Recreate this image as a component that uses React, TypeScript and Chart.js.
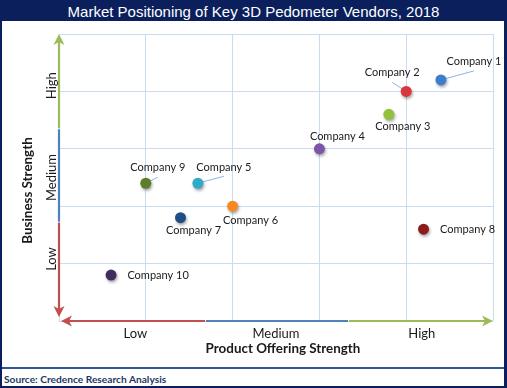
import { useEffect, useRef } from 'react';
import { Chart, registerables } from 'chart.js';

Chart.register(...registerables);

const companies = ['Company 1', 'Company 2', 'Company 3', 'Company 4', 'Company 5', 'Company 6', 'Company 7', 'Company 8', 'Company 9', 'Company 10'];
const productStrength = [4.4, 4.0, 3.8, 3.0, 1.6, 2.0, 1.4, 4.2, 1.0, 0.6];
const businessStrength = [4.2, 4.0, 3.6, 3.0, 2.4, 2.0, 1.8, 1.6, 2.4, 0.8];
const pointColors = ['#3c7dcc', '#d9363e', '#92c13c', '#7d55a8', '#31a9c9', '#f58a22', '#1f4e85', '#8c1c1c', '#5e7d2a', '#3f2d62'];
const xLevels = ['Low', 'Medium', 'High'];
const xLevelAt = [0.88, 2.5, 4.18];
const yLevels = ['Low', 'Medium', 'High'];
const yLevelAt = [1.08, 2.5, 4.1];

// label placement (pixels relative to the point) and optional leader line end
const labelOffsets: [number, number][] = [[33, -18], [-14, -19], [14, 12], [18, -12], [26, -16], [18, 14], [13, 13], [44, 0], [12, -16], [47, 0]];
const leaderEnds: ([number, number] | null)[] = [[33, -9], [-14, -9], null, null, [26, -7], null, null, null, [12, -6], null];

const NAVY = '#0b1f5c';
const GREEN = '#9bbb59';
const BLUE = '#4f81bd';
const RED = '#c0504d';
const FONT = 'Lato, "Liberation Sans", sans-serif';

function head(ctx: CanvasRenderingContext2D, tx: number, ty: number, dx: number, dy: number, color: string) {
  const L = 11, W = 5.5, N = 3;
  const px = -dy, py = dx;
  ctx.fillStyle = color;
  ctx.beginPath();
  ctx.moveTo(tx, ty);
  ctx.lineTo(tx - dx * L + px * W, ty - dy * L + py * W);
  ctx.lineTo(tx - dx * (L - N), ty - dy * (L - N));
  ctx.lineTo(tx - dx * L - px * W, ty - dy * L - py * W);
  ctx.closePath();
  ctx.fill();
}

function seg(ctx: CanvasRenderingContext2D, x1: number, y1: number, x2: number, y2: number, color: string) {
  ctx.strokeStyle = color;
  ctx.lineWidth = 2.2;
  ctx.beginPath();
  ctx.moveTo(x1, y1);
  ctx.lineTo(x2, y2);
  ctx.stroke();
}

const decor = {
  id: 'decor',
  beforeDatasetsDraw(chart: any) {
    const ctx: CanvasRenderingContext2D = chart.ctx;
    const xs = chart.scales.x, ys = chart.scales.y;
    ctx.save();
    const x0 = xs.getPixelForValue(0);
    const top = ys.getPixelForValue(5);
    const bot = ys.getPixelForValue(0) - 4;
    const t = (bot - top) / 3;
    seg(ctx, x0, top + 8, x0, top + t, GREEN);
    head(ctx, x0, top, 0, -1, GREEN);
    seg(ctx, x0, top + t + 1, x0, top + 2 * t - 1, BLUE);
    seg(ctx, x0, top + 2 * t, x0, bot - 8, RED);
    head(ctx, x0, bot, 0, 1, RED);
    const y0 = ys.getPixelForValue(0);
    const left = xs.getPixelForValue(0) + 2;
    const right = xs.getPixelForValue(5);
    const s = (right - left) / 3;
    seg(ctx, left + 8, y0, left + s, y0, RED);
    head(ctx, left, y0, -1, 0, RED);
    seg(ctx, left + s + 1, y0, left + 2 * s - 1, y0, BLUE);
    seg(ctx, left + 2 * s, y0, right - 8, y0, GREEN);
    head(ctx, right, y0, 1, 0, GREEN);
    const meta = chart.getDatasetMeta(0);
    ctx.strokeStyle = '#8db3e2';
    ctx.lineWidth = 1;
    meta.data.forEach((pt: any, i: number) => {
      const e = leaderEnds[i];
      if (!e) return;
      ctx.beginPath();
      ctx.moveTo(pt.x, pt.y);
      ctx.lineTo(pt.x + e[0], pt.y + e[1]);
      ctx.stroke();
    });
    ctx.restore();
    ctx.save();
    ctx.shadowColor = 'rgba(0,0,0,0.35)';
    ctx.shadowBlur = 3;
    ctx.shadowOffsetX = 1;
    ctx.shadowOffsetY = 2;
  },
  afterDatasetsDraw(chart: any) {
    const ctx: CanvasRenderingContext2D = chart.ctx;
    ctx.restore();
    const xs = chart.scales.x, ys = chart.scales.y;
    const area = chart.chartArea;
    ctx.save();
    ctx.textAlign = 'center';
    ctx.textBaseline = 'middle';
    ctx.fillStyle = '#1a1a1a';
    ctx.font = `11px ${FONT}`;
    const meta = chart.getDatasetMeta(0);
    meta.data.forEach((pt: any, i: number) => {
      const o = labelOffsets[i];
      ctx.fillText(companies[i], pt.x + o[0], pt.y + o[1]);
    });
    ctx.font = `13px ${FONT}`;
    xLevels.forEach((l, i) => {
      ctx.fillText(l, xs.getPixelForValue(xLevelAt[i]), area.bottom + 13);
    });
    yLevels.forEach((l, i) => {
      ctx.save();
      ctx.translate(area.left - 7.5, ys.getPixelForValue(yLevelAt[i]));
      ctx.rotate(-Math.PI / 2);
      ctx.fillText(l, 0, 0);
      ctx.restore();
    });
    ctx.font = `bold 13.4px ${FONT}`;
    ctx.fillText('Product Offering Strength', (area.left + area.right) / 2 + 7, area.bottom + 28);
    ctx.save();
    ctx.translate(area.left - 31.5, (area.top + area.bottom) / 2 + 13);
    ctx.rotate(-Math.PI / 2);
    ctx.fillText('Business Strength', 0, 0);
    ctx.restore();
    ctx.restore();
  },
};

export default function App() {
  const ref = useRef<HTMLCanvasElement>(null);
  useEffect(() => {
    document.body.style.margin = '0';
    const chart = new Chart(ref.current!, {
      type: 'scatter',
      data: {
        datasets: [{
          data: productStrength.map((x, i) => ({ x, y: businessStrength[i] })),
          backgroundColor: pointColors,
          borderColor: pointColors,
          borderWidth: 0,
          pointRadius: 5.5,
        }],
      },
      options: {
        responsive: false,
        animation: false,
        events: [],
        layout: { padding: { left: 59, right: 14, top: 34, bottom: 67 } },
        plugins: { legend: { display: false }, tooltip: { enabled: false }, title: { display: false } },
        scales: {
          x: { min: 0, max: 5, ticks: { display: false, stepSize: 1 }, grid: { color: '#c9dcf0', drawTicks: false }, border: { display: false } },
          y: { min: 0, max: 5, ticks: { display: false, stepSize: 1 }, grid: { color: '#c9dcf0', drawTicks: false }, border: { display: false } },
        },
      },
      plugins: [decor],
    });
    return () => chart.destroy();
  }, []);

  return (
    <div style={{ position: 'absolute', left: 0, top: 0, width: 507, height: 388, boxSizing: 'border-box', background: '#fff', borderLeft: `2px solid ${NAVY}`, borderRight: `3px solid ${NAVY}`, borderBottom: `2px solid ${NAVY}`, overflow: 'hidden' }}>
      <div style={{ position: 'absolute', left: -2, top: 0, width: 507, height: 21, background: NAVY, color: '#fff', font: '15px "Liberation Sans", Arial, sans-serif', textAlign: 'center', lineHeight: '23px' }}>
        Market Positioning of Key 3D Pedometer Vendors, 2018
      </div>
      <div style={{ position: 'absolute', left: -2, top: 367, width: 507, height: 1.5, background: '#2e5597' }} />
      <div style={{ position: 'absolute', left: 2, top: 373, font: `bold 10.2px ${FONT}`, color: '#1f3864', lineHeight: '13px' }}>
        Source: Credence Research Analysis
      </div>
      <canvas ref={ref} width={507} height={388} style={{ position: 'absolute', left: -2, top: 0, width: 507, height: 388 }} />
    </div>
  );
}
